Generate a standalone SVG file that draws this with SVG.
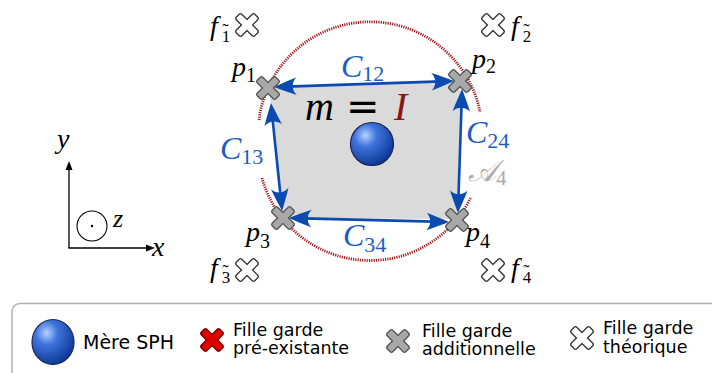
<svg xmlns="http://www.w3.org/2000/svg" width="712" height="373" viewBox="0 0 712 373">
<defs>
<style>
.m{font-family:"Liberation Serif","DejaVu Serif",serif;font-style:italic;fill:#000}
.n{font-style:normal}
.bl{fill:#1d5cc0}
.lg{font-family:"DejaVu Sans",sans-serif;font-size:17.5px;fill:#000}
.ar{fill:none;stroke:#0b4aae;stroke-width:2.6;marker-start:url(#ah);marker-end:url(#ah)}
.o{stroke-width:2.6}
.i{stroke:none}
</style>
<radialGradient id="sph" cx="0.35" cy="0.3" r="0.75">
<stop offset="0" stop-color="#b4d0ff"/>
<stop offset="0.35" stop-color="#3f74dc"/>
<stop offset="1" stop-color="#0a3493"/>
</radialGradient>
<marker id="ah" markerUnits="userSpaceOnUse" markerWidth="30" markerHeight="30" viewBox="-20 -10 24 20" refX="-4" refY="0" orient="auto-start-reverse" overflow="visible">
<path d="M0,0 C-5,-2 -12,-5 -18,-7 C-14,-3 -14,3 -18,7 C-12,5 -5,2 0,0 Z" fill="#0b4aae"/>
</marker>
<g id="xc">
<rect class="o" x="-12.5" y="-3.3" width="25" height="6.6" rx="1.5" transform="rotate(45)"/>
<rect class="o" x="-12.5" y="-3.3" width="25" height="6.6" rx="1.5" transform="rotate(-45)"/>
<rect class="i" x="-12.5" y="-3.3" width="25" height="6.6" rx="1.5" transform="rotate(45)"/>
<rect class="i" x="-12.5" y="-3.3" width="25" height="6.6" rx="1.5" transform="rotate(-45)"/>
</g>
</defs>
<rect width="712" height="373" fill="#fff"/>

<g id="axes">
<line x1="69" y1="248" x2="69" y2="168" stroke="#000" stroke-width="1.3"/>
<path d="M69,161 L65.5,170 L72.5,170 Z" fill="#000"/>
<line x1="68.5" y1="248" x2="148" y2="248" stroke="#000" stroke-width="1.3"/>
<path d="M155,248 L146,244.5 L146,251.5 Z" fill="#000"/>
<circle cx="92" cy="226" r="15" fill="none" stroke="#000" stroke-width="1.1"/>
<circle cx="92" cy="226" r="1.2" fill="#000"/>
<text class="m" x="57" y="148" font-size="28">y</text>
<text class="m" x="152" y="256" font-size="28">x</text>
<text class="m" x="113" y="227" font-size="26">z</text>
</g>

<g id="area">
<path d="M269,88 L461,81 L457,219 L283,218 Z" fill="#dadada"/>
</g>

<g id="circle">
<path d="M259,120 A112,112 0 0 1 480,112" fill="none" stroke="#a01a1a" stroke-width="2.8" stroke-dasharray="1.2 1.1"/>
<path d="M262,178 A112,112 0 0 0 471,197" fill="none" stroke="#a01a1a" stroke-width="2.8" stroke-dasharray="1.2 1.1"/>
</g>

<g id="connectors">
<path class="ar" d="M279,86.9 L449,81.1"/>
<path class="ar" d="M271.4,108 L281.6,206"/>
<path class="ar" d="M461.9,94 L458.1,208"/>
<path class="ar" d="M294,218.1 L444,221.9"/>
</g>

<g id="mother">
<circle cx="372" cy="144" r="21.5" fill="url(#sph)" stroke="#1a2550" stroke-width="1.2"/>
<text class="m" x="305" y="120" font-size="40">m</text>
<text x="346" y="120" font-family="DejaVu Sans,sans-serif" font-size="40" fill="#000">=</text>
<text class="m" x="394" y="120" font-size="40" style="fill:#8b1515">I</text>
</g>

<g id="labels-c">
<text class="m bl" x="341" y="77" font-size="32">C<tspan class="n" font-size="22" dy="4">12</tspan></text>
<text class="m bl" x="220" y="159" font-size="32">C<tspan class="n" font-size="22" dy="5">13</tspan></text>
<text class="m bl" x="466" y="143" font-size="32">C<tspan class="n" font-size="22" dy="5">24</tspan></text>
<text class="m bl" x="343" y="246" font-size="32">C<tspan class="n" font-size="22" dy="6">34</tspan></text>
<text class="m" x="468" y="181" font-size="30" style="fill:#aaaaaa">𝒜<tspan class="n" font-size="21" dy="4">4</tspan></text>
</g>

<g id="p1"><use href="#xc" x="268" y="88" fill="#a8a8a8" stroke="#555"/><text class="m" x="232" y="76" font-size="28">p<tspan class="n" font-size="20" dy="6">1</tspan></text></g>
<g id="p2"><use href="#xc" x="460" y="81" fill="#a8a8a8" stroke="#555"/><text class="m" x="472" y="68" font-size="28">p<tspan class="n" font-size="20" dy="5">2</tspan></text></g>
<g id="p3"><use href="#xc" x="283" y="218" fill="#a8a8a8" stroke="#555"/><text class="m" x="246" y="241" font-size="28">p<tspan class="n" font-size="20" dy="7">3</tspan></text></g>
<g id="p4"><use href="#xc" x="457" y="220" fill="#a8a8a8" stroke="#555"/><text class="m" x="466" y="241" font-size="28">p<tspan class="n" font-size="20" dy="7">4</tspan></text></g>

<g id="f1"><use href="#xc" x="247" y="25" fill="#fff" stroke="#333"/><text class="m" x="210" y="35" font-size="28">f<tspan class="n" font-size="17" dx="4" dy="7">1</tspan><tspan class="n" font-size="19" dx="-8" dy="-5">˜</tspan></text></g>
<g id="f2"><use href="#xc" x="493" y="25" fill="#fff" stroke="#333"/><text class="m" x="511" y="35" font-size="28">f<tspan class="n" font-size="17" dx="4" dy="7">2</tspan><tspan class="n" font-size="19" dx="-8" dy="-5">˜</tspan></text></g>
<g id="f3"><use href="#xc" x="247" y="270" fill="#fff" stroke="#333"/><text class="m" x="210" y="277" font-size="28">f<tspan class="n" font-size="17" dx="4" dy="6">3</tspan><tspan class="n" font-size="19" dx="-8" dy="-5">˜</tspan></text></g>
<g id="f4"><use href="#xc" x="493" y="270" fill="#fff" stroke="#333"/><text class="m" x="511" y="277" font-size="28">f<tspan class="n" font-size="17" dx="4" dy="6">4</tspan><tspan class="n" font-size="19" dx="-8" dy="-5">˜</tspan></text></g>

<g id="legend">
<rect x="12" y="303.5" width="760" height="100" rx="8" fill="#fff" stroke="#b0b0b0" stroke-width="1.5"/>
<ellipse cx="53" cy="342" rx="21" ry="22.5" fill="url(#sph)" stroke="#1a2550" stroke-width="1.2"/>
<text class="lg" x="83" y="349" style="font-size:19px">Mère SPH</text>
<use href="#xc" x="212" y="340" fill="#e00000" stroke="#700"/>
<text class="lg" x="233" y="336">Fille garde</text>
<text class="lg" x="233" y="354">pré-existante</text>
<use href="#xc" x="398" y="341" fill="#a8a8a8" stroke="#555"/>
<text class="lg" x="422" y="337">Fille garde</text>
<text class="lg" x="422" y="355">additionnelle</text>
<use href="#xc" x="582" y="338" fill="#fff" stroke="#333"/>
<text class="lg" x="603" y="334">Fille garde</text>
<text class="lg" x="603" y="353">théorique</text>
</g>
</svg>
